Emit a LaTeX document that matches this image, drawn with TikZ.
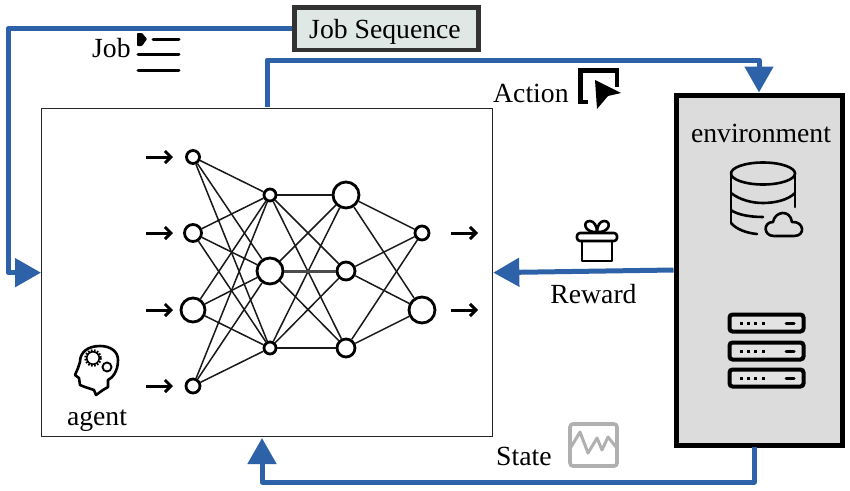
\documentclass[tikz,border=0pt]{standalone}
\usepackage{fontspec}
\setmainfont{Liberation Serif}
\usetikzlibrary{arrows.meta}
\definecolor{flow}{HTML}{2E62A8}
\definecolor{envfill}{HTML}{DCDCDC}
\definecolor{seqfill}{HTML}{E0E8E6}
\definecolor{iconGray}{HTML}{B0B0B0}
\tikzset{
 x=1pt,y=-1pt,
 lbl/.style={inner sep=0pt,font=\fontsize{27.7}{28}\selectfont,text=black},
 flowline/.style={draw=flow,line width=5pt,line join=round,-{Triangle[length=26pt,width=28pt,fill=flow]}},
 neuron/.style={circle,draw=black,line width=2.8pt,fill=white,inner sep=0pt,minimum size=#1},
 edge/.style={draw=black!90,line width=1.5pt},
 thickedge/.style={draw=black!70,line width=3pt},
 inarrow/.style={draw=black,line width=3pt,-{Straight Barb[length=6pt,width=12pt]}},
 icon/.style={draw=black,line width=2.6pt,line cap=round,line join=round},
}
\begin{document}
\begin{tikzpicture}
\useasboundingbox (0,0) rectangle (850,490);
% boxes
\node[draw=black!85,line width=1.3pt,fill=white,minimum width=451pt,minimum height=328pt,inner sep=0pt,anchor=north west] (agent) at (41,108) {};
\node[draw=black,line width=5pt,fill=envfill,minimum width=166pt,minimum height=350pt,inner sep=0pt,anchor=north west] (env) at (673.5,92.5) {};
\node[draw=black!80,line width=4.5pt,fill=seqfill,minimum width=184pt,minimum height=42.5pt,inner sep=0pt,anchor=north west] (seq) at (292,5) {};
\node[lbl,anchor=base] (tseq) at (385,38) {Job Sequence};
% connector corners
\coordinate (jobA) at (seq.west -| 8,0);
\coordinate (jobB) at (agent.west -| 8,0);
\coordinate (actS) at (267,107);
\coordinate (actA) at (267,60);
\coordinate (actB) at (env.north |- 0,60);
\coordinate (stS) at (754,447);
\coordinate (stA) at (754,482);
\coordinate (stB) at (262,482);
\coordinate (stE) at (262,438);
\draw[flowline] (seq.west) -- (jobA) -- (jobB) -- (agent.west);
\draw[flowline] (actS) -- (actA) -- (actB) -- (env.north);
\draw[flowline] (env.west) -- (agent.east);
\draw[flowline] (stS) -- (stA) -- (stB) -- (stE);
% neurons
\foreach \n/\x/\y/\d in {i1/193/157/13,i2/193/233/17,i3/193/310/24,i4/193/386/14,
 a1/270/195/12,a2/270/271/26,a3/270/348/12,
 b1/346/195/26,b2/346/271/18,b3/346/348/18,
 o1/422/233/14,o2/422/310/26}
 \node[neuron=\d pt] (\n) at (\x,\y) {};
\foreach \s in {i1,i2,i3,i4}\foreach \t in {a1,a2,a3}\draw[edge] (\s) -- (\t);
\foreach \s in {a1,a2,a3}\foreach \t in {b1,b2,b3}\draw[edge] (\s) -- (\t);
\foreach \s in {b1,b2,b3}\foreach \t in {o1,o2}\draw[edge] (\s) -- (\t);
\draw[thickedge] (a2.east) -- (b2.west);
% input / output arrows
\foreach \k/\y in {p1/157,p2/233,p3/310,p4/386}{
 \coordinate (\k s) at (146,\y); \coordinate (\k e) at (173,\y);
 \draw[inarrow] (\k s) -- (\k e);}
\foreach \k/\y in {q1/233,q2/310}{
 \coordinate (\k s) at (451,\y); \coordinate (\k e) at (478,\y);
 \draw[inarrow] (\k s) -- (\k e);}
% labels
\node[lbl,anchor=base west] (tjob) at (92,57) {Job};
\node[lbl,anchor=base west] (tact) at (493,102) {Action};
\node[lbl,anchor=base] (tenv) at (761,142) {environment};
\node[lbl,anchor=base] (trew) at (593.5,303) {Reward};
\node[lbl,anchor=base west] (tst) at (496,465) {State};
\node[lbl,anchor=base] (tag) at (97,425) {agent};
% job icon
\fill[black,rounded corners=.8pt] (137,33) -- (142,33) -- (147,39) -- (142,46) -- (137,46) -- cycle;
\draw[icon,line width=3pt] (153,39) -- (179,39) (138,54.5) -- (179,54.5) (138,70) -- (179,70);
% action icon
\draw[icon,line width=4.5pt,line cap=butt,line join=miter] (588,102) -- (580.5,102) -- (580.5,70.5) -- (617,70.5) -- (617,87);
\fill[black] (595,80) -- (621,93) -- (608,96) -- (597,109) -- cycle;
% gift icon
\draw[icon] (582,241) -- (582,261) -- (612,261) -- (612,241);
\draw[icon,rounded corners=3pt] (577,233) rectangle (617,241);
\draw[icon] (597,232) .. controls (584,233) and (582,221) .. (590,221) .. controls (594,221) and (597,226) .. (597,232) .. controls (597,226) and (600,221) .. (604,221) .. controls (612,221) and (610,233) .. (597,232);
% database icon
\draw[icon] (763,173.5) ellipse [x radius=32,y radius=11];
\draw[icon] (731,173.5) -- (731,223);
\draw[icon] (795,173.5) -- (795,207);
\draw[icon] (731,193) .. controls (740,200) and (752,203) .. (763,203) .. controls (775,203) and (788,200) .. (795,193);
\draw[icon] (731,210) .. controls (736,214) and (748,217) .. (763,217);
\draw[icon] (731,223) .. controls (736,229) and (746,233) .. (757,234);
\draw[icon] (774,236) .. controls (763,236) and (763,222) .. (773,222) .. controls (775,211) and (790,209) .. (792,222) .. controls (804,221) and (806,236) .. (794,236) -- cycle;
% servers
\foreach \y in {313,341,368}{
 \draw[black,line width=4pt,rounded corners=3pt,fill=envfill!80!white] (729.5,\y+1.5) rectangle (803.5,\y+18.5);
 \foreach \xx in {741,748,755,763}\fill[black] (\xx-1.5,\y+8.5) rectangle (\xx+1.5,\y+11.5);
 \draw[black,line width=3pt,line cap=round] (786,\y+10) -- (794,\y+10);
}
% state icon
\draw[iconGray,line width=3.6pt,rounded corners=3pt] (570,424) rectangle (617,466);
\draw[iconGray,line width=3pt,line join=round] (571,447) -- (580,432) -- (588,453) -- (597,438) -- (602,450) -- (608,437) -- (616,447);
% brain / head icon
\draw[icon] (96,395) -- (103,390) -- (108,387) -- (108,380) .. controls (112,378) and (118,372) .. (118,360) .. controls (118,351) and (110,346) .. (100,346) .. controls (88,346) and (80,352) .. (80,362) -- (78,368) -- (75,375) -- (79,378) -- (80,385) -- (85,387) -- (94,390) -- cycle;
\draw[black,line width=2.6pt,dash pattern=on 1.7pt off 1.3pt] (93,358) circle (7.5);
\draw[black,line width=1.5pt] (93,358) circle (6.2);
\draw[black,line width=1.9pt] (107,367) circle (4.5);
\end{tikzpicture}
\end{document}
